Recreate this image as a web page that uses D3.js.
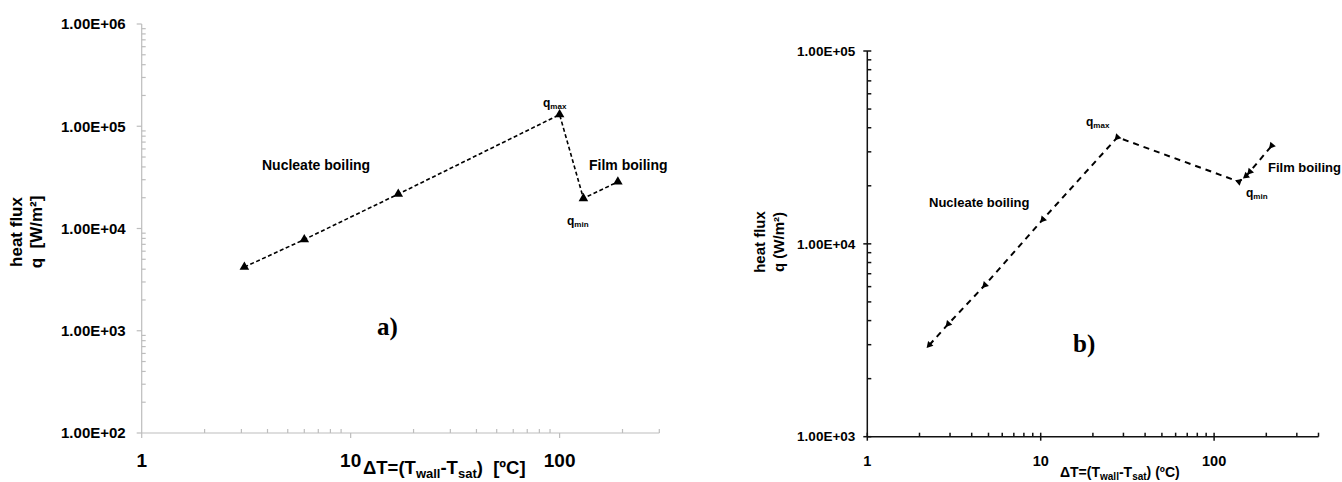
<!DOCTYPE html>
<html>
<head>
<meta charset="utf-8">
<script src="https://cdn.jsdelivr.net/npm/d3@7"></script>
<style>
  body { margin: 0; background: #fff; }
  svg text { font-family: "Liberation Sans", Arial, sans-serif; font-weight: bold; fill: #000; white-space: pre; }
  svg text.panel-tag { font-family: "Liberation Serif", "Times New Roman", serif; }
</style>
</head>
<body>
<svg id="chart" width="1342" height="482"></svg>
<script>
// panel a) boiling curve
const dTA = [3.1, 6.0, 16.9, 100, 130, 190]
const qA = [4200, 7800, 21700, 130000, 19700, 28600]
// panel b) boiling curve
const dTB = [2.28, 2.93, 4.77, 10.3, 27.7, 139, 153, 161, 215]
const qB = [2990, 3840, 6120, 13400, 35700, 21000, 22500, 23700, 32300]

const xTicksA = [1, 10, 100]
const yTicksA = [1e2, 1e3, 1e4, 1e5, 1e6]
const xTicksB = [1, 10, 100]
const yTicksB = [1e3, 1e4, 1e5]

const svg = d3.select('#chart')

function sci(v) {
    let e = Math.round(Math.log10(v))
    return '1.00E+' + (e < 10 ? '0' + e : e)
}

// minor ticks 2..9 of every decade inside the domain
function minorTicks(domain) {
    let out = []
    for (let d = Math.floor(Math.log10(domain[0])); d <= Math.ceil(Math.log10(domain[1])); d++) {
        for (let k = 2; k <= 9; k++) {
            let v = k * Math.pow(10, d)
            if (v > domain[0] && v <= domain[1] * 1.0001) out.push(v)
        }
    }
    return out
}

function subText(sel, parts) {
    // parts: [text, isSub, shift, size]
    let shifted = false
    parts.forEach(p => {
        let t = sel.append('tspan').text(p[0])
        if (p[1] && !shifted) { t.attr('dy', p[2] || 4).style('font-size', p[3]); shifted = p[2] || 4 }
        else if (!p[1] && shifted) { t.attr('dy', -shifted); shifted = false }
    })
}

function drawPanel(o) {
    let x = d3.scaleLog().domain(o.xDomain).range(o.xRange)
    let y = d3.scaleLog().domain(o.yDomain).range(o.yRange)
    let g = svg.append('g')
    let x0 = o.xRange[0], y0 = o.yRange[0]

    // axis lines
    g.append('line').attr('x1', x0).attr('x2', x0).attr('y1', o.yRange[1]).attr('y2', y0)
        .attr('stroke', o.axisColor).attr('stroke-width', o.axisWidth)
    g.append('line').attr('x1', x0).attr('x2', o.xRange[1]).attr('y1', y0).attr('y2', y0)
        .attr('stroke', o.axisColor).attr('stroke-width', o.axisWidth)

    // y ticks
    g.selectAll('.ymaj').data(o.yTicks).enter().append('line')
        .attr('x1', x0 - o.majOut).attr('x2', x0 + o.majIn)
        .attr('y1', d => y(d)).attr('y2', d => y(d))
        .attr('stroke', o.axisColor).attr('stroke-width', o.axisWidth)
    g.selectAll('.ymin').data(minorTicks(o.yDomain).filter(v => o.yTicks.indexOf(v) < 0)).enter().append('line')
        .attr('x1', x0).attr('x2', x0 + o.minIn)
        .attr('y1', d => y(d)).attr('y2', d => y(d))
        .attr('stroke', o.axisColor).attr('stroke-width', o.axisWidth)
    g.selectAll('.ylab').data(o.yTicks).enter().append('text')
        .attr('x', x0 - o.yLabGap).attr('y', d => y(d)).attr('dy', '0.35em')
        .attr('text-anchor', 'end').style('font-size', o.yLabSize + 'px')
        .text(sci)

    // x ticks
    g.selectAll('.xmaj').data(o.xTicks).enter().append('line')
        .attr('x1', d => x(d)).attr('x2', d => x(d))
        .attr('y1', y0 - o.majIn).attr('y2', y0 + o.majOut)
        .attr('stroke', o.axisColor).attr('stroke-width', o.axisWidth)
    g.selectAll('.xmin').data(minorTicks(o.xDomain).filter(v => o.xTicks.indexOf(v) < 0)).enter().append('line')
        .attr('x1', d => x(d)).attr('x2', d => x(d))
        .attr('y1', y0 - o.minIn).attr('y2', y0)
        .attr('stroke', o.axisColor).attr('stroke-width', o.axisWidth)
    g.selectAll('.xlab').data(o.xTicks).enter().append('text')
        .attr('x', d => x(d)).attr('y', o.xLabY)
        .attr('text-anchor', 'middle').style('font-size', o.xLabSize + 'px')
        .text(d => d)

    // curve
    let pts = o.dT.map((d, i) => [x(d), y(o.q[i])])
    g.append('path').datum(pts)
        .attr('d', d3.line())
        .attr('fill', 'none').attr('stroke', '#000')
        .attr('stroke-width', o.lineWidth).attr('stroke-dasharray', o.dash)

    let sym = d3.symbol().type(d3.symbolTriangle).size(o.markSize)
    g.selectAll('.mark').data(pts).enter().append('path')
        .attr('d', sym)
        .attr('transform', (p, i) => {
            let rot = 0
            if (o.rotateMarks) {
                let a = i > 0 ? pts[i - 1] : [2 * p[0] - pts[1][0], 2 * p[1] - pts[1][1]]
                rot = Math.atan2(a[1] - p[1], a[0] - p[0]) * 180 / Math.PI + 90
            }
            return 'translate(' + p[0] + ',' + p[1] + ') rotate(' + rot + ')'
        })
        .attr('fill', '#000')

    // axis titles
    let yt = g.append('text').attr('transform', 'translate(' + o.yTitle.x + ',' + o.yTitle.y + ') rotate(-90)')
        .attr('text-anchor', 'middle').style('font-size', o.yTitle.size + 'px')
    yt.append('tspan').attr('x', 0).attr('dy', 0).text('heat flux')
    yt.append('tspan').attr('x', 0).attr('dy', o.yTitle.lh).text(o.yTitle.second)

    let xt = g.append('text').attr('x', o.xTitle.x).attr('y', o.xTitle.y).style('font-size', o.xTitle.size + 'px')
    subText(xt, [['ΔT=(T'], ['wall', true, o.xTitle.sub, o.xTitle.subSize], ['-T'], ['sat', true, o.xTitle.sub, o.xTitle.subSize], [o.xTitle.tail]])

    // annotations
    g.append('text').attr('x', o.nucleate[0]).attr('y', o.nucleate[1]).style('font-size', o.noteSize + 'px').text('Nucleate boiling')
    g.append('text').attr('x', o.film[0]).attr('y', o.film[1]).style('font-size', o.noteSize + 'px').text('Film boiling')
    let qmx = g.append('text').attr('x', o.qmax[0]).attr('y', o.qmax[1]).style('font-size', o.qSize + 'px')
    subText(qmx, [['q'], ['max', true, 2, o.qSub + 'px']])
    let qmn = g.append('text').attr('x', o.qmin[0]).attr('y', o.qmin[1]).style('font-size', o.qSize + 'px')
    subText(qmn, [['q'], ['min', true, 2, o.qSub + 'px']])

    g.append('text').attr('class', 'panel-tag').attr('x', o.tag[0]).attr('y', o.tag[1])
        .style('font-size', '25px').text(o.tag[2])
}

drawPanel({
    dT: dTA, q: qA,
    xDomain: [1, 300], yDomain: [1e2, 1e6],
    xRange: [141.7, 659.3], yRange: [433, 24],
    xTicks: xTicksA, yTicks: yTicksA,
    axisColor: '#bdbdbd', axisWidth: 1.2,
    majOut: 5, majIn: 0, minIn: 4,
    yLabGap: 16, yLabSize: 15,
    xLabY: 467, xLabSize: 19,
    lineWidth: 1.6, dash: '4,2.5', markSize: 40, rotateMarks: false,
    yTitle: { x: 22, y: 232, size: 17, lh: 20, second: 'q  [W/m²]' },
    xTitle: { x: 363, y: 474, size: 18.5, sub: 4, subSize: '13px', tail: ')  [ºC]' },
    nucleate: [262, 170], film: [589, 170], noteSize: 14,
    qmax: [543, 107], qmin: [567, 225], qSize: 12, qSub: 8,
    tag: [377, 335, 'a)']
})

drawPanel({
    dT: dTB, q: qB,
    xDomain: [1, 400], yDomain: [1e3, 1e5],
    xRange: [867.3, 1318.5], yRange: [436.7, 51],
    xTicks: xTicksB, yTicks: yTicksB,
    axisColor: '#111', axisWidth: 1.5,
    majOut: 4, majIn: 4, minIn: 4,
    yLabGap: 12, yLabSize: 13.5,
    xLabY: 466, xLabSize: 14.5,
    lineWidth: 2, dash: '6,5', markSize: 22, rotateMarks: true,
    yTitle: { x: 765, y: 242, size: 15, lh: 19, second: 'q (W/m²)' },
    xTitle: { x: 1060, y: 477, size: 14, sub: 3, subSize: '10px', tail: ') (ºC)' },
    nucleate: [929, 207], film: [1268, 172], noteSize: 13,
    qmax: [1086, 126], qmin: [1246, 197], qSize: 12, qSub: 8,
    tag: [1073, 352, 'b)']
})
</script>
</body>
</html>
